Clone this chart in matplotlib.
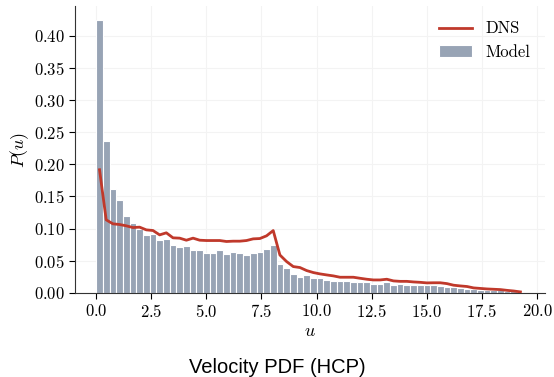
import numpy as np
import matplotlib
matplotlib.use("Agg")
import matplotlib.pyplot as plt

plt.rcParams["font.family"] = "serif"
plt.rcParams["font.serif"] = ["cmr10"]
plt.rcParams["mathtext.fontset"] = "cm"
plt.rcParams["axes.formatter.use_mathtext"] = True

# histogram bins (64 bins over [0, 19.4])
u_min, u_max, n_bins = 0.0, 19.4, 64

# model histogram (density), one value per bin
model = [0.425, 0.237, 0.1615, 0.144, 0.119, 0.1095, 0.100, 0.090, 0.091, 0.0826,
         0.0836, 0.0748, 0.0710, 0.0727, 0.0675, 0.0670, 0.0618, 0.0618, 0.066, 0.060,
         0.0634, 0.0628, 0.0597, 0.0623, 0.0644, 0.0685, 0.0748, 0.0452, 0.0384, 0.030,
         0.0252, 0.0275, 0.0228, 0.0228, 0.0202, 0.0192, 0.0187, 0.0182, 0.0176, 0.0176,
         0.0166, 0.0145, 0.0145, 0.0166, 0.0125, 0.0138, 0.0130, 0.0130, 0.0130, 0.0120,
         0.0120, 0.0115, 0.0098, 0.0088, 0.0073, 0.0068, 0.0062, 0.0052, 0.0052, 0.0047,
         0.0040, 0.0030, 0.0025, 0.0020]

# DNS pdf evaluated at bin centres
dns = [0.1916, 0.1137, 0.1075, 0.1064, 0.1044, 0.1017, 0.1023, 0.0981, 0.0971, 0.0903,
       0.0935, 0.0857, 0.0852, 0.0820, 0.0852, 0.0820, 0.0815, 0.0815, 0.0815, 0.0800,
       0.0805, 0.0805, 0.0815, 0.0841, 0.0846, 0.0888, 0.0970, 0.0590, 0.0488, 0.0410,
       0.0395, 0.0348, 0.0317, 0.0296, 0.0280, 0.0265, 0.0244, 0.0244, 0.0244, 0.0228,
       0.0213, 0.0202, 0.0202, 0.0213, 0.0187, 0.0180, 0.0180, 0.0171, 0.0165, 0.0156,
       0.0158, 0.0158, 0.0145, 0.0120, 0.0109, 0.0100, 0.0078, 0.0070, 0.0062, 0.0057,
       0.0052, 0.0040, 0.0030, 0.0016]

edges = np.linspace(u_min, u_max, n_bins + 1)
centers = 0.5 * (edges[:-1] + edges[1:])
width = edges[1] - edges[0]

fig = plt.figure(figsize=(5.54, 3.77), dpi=100)
ax = fig.add_axes([0.135, 0.223, 0.849, 0.761])

ax.bar(edges[:-1], model, width=width, align="edge", color="#98a4b5",
       edgecolor="white", linewidth=0.8, label="Model", zorder=2)
ax.plot(centers, dns, color="#c0392b", lw=2.0, label="DNS", zorder=3)

ax.set_ylim(bottom=0)
ax.set_xticks(np.arange(0, 20.1, 2.5))
ax.set_yticks(np.arange(0, 0.41, 0.05))
ax.grid(True, color="#f3f3f3", lw=0.8, zorder=0)
ax.set_axisbelow(True)
ax.tick_params(labelsize=12, length=4, pad=3)
ax.set_xlabel("$u$", fontsize=13, labelpad=3)
ax.set_ylabel("$P(u)$", fontsize=13, labelpad=2)
for s in ["top", "right"]:
    ax.spines[s].set_visible(False)
ax.spines["left"].set_color("#333333")
ax.spines["bottom"].set_color("#333333")

ax.legend(loc="upper right", frameon=False, fontsize=12)

fig.text(0.5, 0.024, "Velocity PDF (HCP)", ha="center", va="center",
         fontsize=14.5, family="Liberation Sans")

fig.savefig("out.png", dpi=100)
